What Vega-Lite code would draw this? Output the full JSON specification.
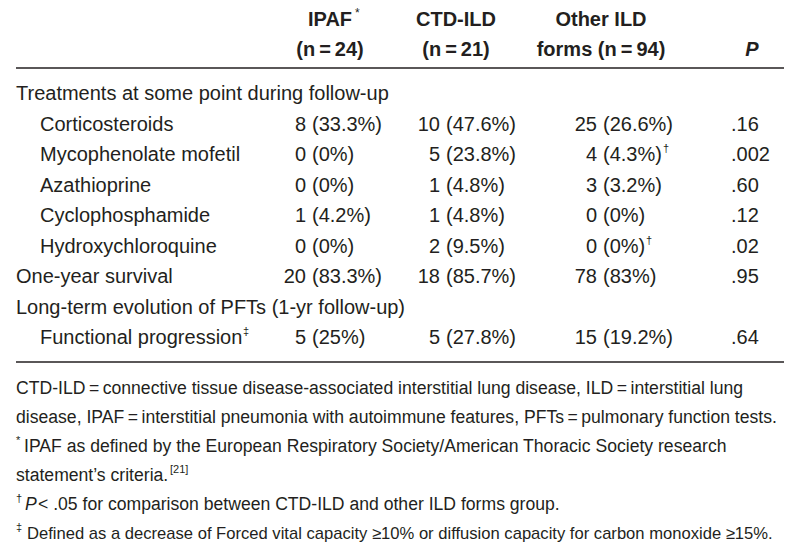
{
  "$schema": "https://vega.github.io/schema/vega-lite/v6.json",
  "width": 800,
  "height": 559,
  "autosize": {"type": "none"},
  "padding": 0,
  "background": "white",
  "config": {
    "view": {"stroke": null},
    "text": {"font": "Liberation Sans", "fontSize": 20, "color": "#231f20", "baseline": "alphabetic", "align": "left"}
  },
  "datasets": {
    "headers": [
      {"line": 0, "col": 3, "text": "IPAF"},
      {"line": 1, "col": 3, "text": "(n\u2009=\u200924)"},
      {"line": 0, "col": 5, "text": "CTD-ILD"},
      {"line": 1, "col": 5, "text": "(n\u2009=\u200921)"},
      {"line": 0, "col": 7, "text": "Other ILD"},
      {"line": 1, "col": 7, "text": "forms (n\u2009=\u200994)"},
      {"line": 1, "col": 9, "text": "P"}
    ],
    "labels": [
      {"line": 2, "col": 0, "text": "Treatments at some point during follow-up"},
      {"line": 3, "col": 1, "text": "Corticosteroids"},
      {"line": 4, "col": 1, "text": "Mycophenolate mofetil"},
      {"line": 5, "col": 1, "text": "Azathioprine"},
      {"line": 6, "col": 1, "text": "Cyclophosphamide"},
      {"line": 7, "col": 1, "text": "Hydroxychloroquine"},
      {"line": 8, "col": 0, "text": "One-year survival"},
      {"line": 9, "col": 0, "text": "Long-term evolution of PFTs (1-yr follow-up)"},
      {"line": 10, "col": 1, "text": "Functional progression"}
    ],
    "counts": [
      {"line": 3, "col": 2, "text": "8"}, {"line": 3, "col": 4, "text": "10"}, {"line": 3, "col": 6, "text": "25"},
      {"line": 4, "col": 2, "text": "0"}, {"line": 4, "col": 4, "text": "5"}, {"line": 4, "col": 6, "text": "4"},
      {"line": 5, "col": 2, "text": "0"}, {"line": 5, "col": 4, "text": "1"}, {"line": 5, "col": 6, "text": "3"},
      {"line": 6, "col": 2, "text": "1"}, {"line": 6, "col": 4, "text": "1"}, {"line": 6, "col": 6, "text": "0"},
      {"line": 7, "col": 2, "text": "0"}, {"line": 7, "col": 4, "text": "2"}, {"line": 7, "col": 6, "text": "0"},
      {"line": 8, "col": 2, "text": "20"}, {"line": 8, "col": 4, "text": "18"}, {"line": 8, "col": 6, "text": "78"},
      {"line": 10, "col": 2, "text": "5"}, {"line": 10, "col": 4, "text": "5"}, {"line": 10, "col": 6, "text": "15"}
    ],
    "pcts": [
      {"line": 3, "col": 2, "text": "(33.3%)"}, {"line": 3, "col": 4, "text": "(47.6%)"}, {"line": 3, "col": 6, "text": "(26.6%)"},
      {"line": 4, "col": 2, "text": "(0%)"}, {"line": 4, "col": 4, "text": "(23.8%)"}, {"line": 4, "col": 6, "text": "(4.3%)"},
      {"line": 5, "col": 2, "text": "(0%)"}, {"line": 5, "col": 4, "text": "(4.8%)"}, {"line": 5, "col": 6, "text": "(3.2%)"},
      {"line": 6, "col": 2, "text": "(4.2%)"}, {"line": 6, "col": 4, "text": "(4.8%)"}, {"line": 6, "col": 6, "text": "(0%)"},
      {"line": 7, "col": 2, "text": "(0%)"}, {"line": 7, "col": 4, "text": "(9.5%)"}, {"line": 7, "col": 6, "text": "(0%)"},
      {"line": 8, "col": 2, "text": "(83.3%)"}, {"line": 8, "col": 4, "text": "(85.7%)"}, {"line": 8, "col": 6, "text": "(83%)"},
      {"line": 10, "col": 2, "text": "(25%)"}, {"line": 10, "col": 4, "text": "(27.8%)"}, {"line": 10, "col": 6, "text": "(19.2%)"}
    ],
    "pvals": [
      {"line": 3, "col": 8, "text": ".16"},
      {"line": 4, "col": 8, "text": ".002"},
      {"line": 5, "col": 8, "text": ".60"},
      {"line": 6, "col": 8, "text": ".12"},
      {"line": 7, "col": 8, "text": ".02"},
      {"line": 8, "col": 8, "text": ".95"},
      {"line": 10, "col": 8, "text": ".64"}
    ],
    "notes": [
      {"line": 11, "col": 0, "text": "CTD-ILD\u2009=\u2009connective tissue disease-associated interstitial lung disease, ILD\u2009=\u2009interstitial lung"},
      {"line": 12, "col": 0, "text": "disease, IPAF\u2009=\u2009interstitial pneumonia with autoimmune features, PFTs\u2009=\u2009pulmonary function tests."},
      {"line": 14, "col": 0, "text": "statement\u2019s criteria."}
    ]
  },
  "layer": [
    {
      "data": {"values": [{}]},
      "mark": {"type": "rule", "color": "#231f20", "strokeWidth": 1.6},
      "encoding": {
        "x": {"datum": 0, "type": "quantitative", "scale": {"domain": [0, 1, 2, 3, 4, 5, 6, 7, 8, 9, 10], "range": [16, 40, 309, 330, 443, 456, 600, 601, 731, 752, 784], "nice": false, "zero": false}, "axis": null},
        "x2": {"datum": 10},
        "y": {"datum": 1.273, "type": "quantitative", "scale": {"domain": [0, 1, 2, 10, 11, 16], "range": [26, 56, 100, 344, 393.5, 538.5], "nice": false, "zero": false}, "axis": null}
      }
    },
    {
      "data": {"values": [{}]},
      "mark": {"type": "rule", "color": "#231f20", "strokeWidth": 1.6},
      "encoding": {
        "x": {"datum": 0, "type": "quantitative", "axis": null},
        "x2": {"datum": 10},
        "y": {"datum": 10.364, "type": "quantitative", "axis": null}
      }
    },
    {
      "data": {"name": "headers"},
      "transform": [{"filter": "datum.col != 9"}],
      "mark": {"type": "text", "fontWeight": "bold", "fontSize": 20, "align": "center"},
      "encoding": {
        "x": {"field": "col", "type": "quantitative", "axis": null},
        "y": {"field": "line", "type": "quantitative", "axis": null},
        "text": {"field": "text"}
      }
    },
    {
      "data": {"name": "headers"},
      "transform": [{"filter": "datum.col == 9"}],
      "mark": {"type": "text", "fontWeight": "bold", "fontStyle": "italic", "fontSize": 20, "align": "center"},
      "encoding": {
        "x": {"field": "col", "type": "quantitative", "axis": null},
        "y": {"field": "line", "type": "quantitative", "axis": null},
        "text": {"field": "text"}
      }
    },
    {
      "data": {"values": [{"line": 0, "col": 3, "text": "*"}]},
      "mark": {"type": "text", "fontSize": 12, "dx": 25, "dy": -9},
      "encoding": {
        "x": {"field": "col", "type": "quantitative", "axis": null},
        "y": {"field": "line", "type": "quantitative", "axis": null},
        "text": {"field": "text"}
      }
    },
    {
      "data": {"name": "labels"},
      "mark": {"type": "text"},
      "encoding": {
        "x": {"field": "col", "type": "quantitative", "axis": null},
        "y": {"field": "line", "type": "quantitative", "axis": null},
        "text": {"field": "text"}
      }
    },
    {
      "data": {"name": "counts"},
      "mark": {"type": "text", "align": "right", "dx": -3},
      "encoding": {
        "x": {"field": "col", "type": "quantitative", "axis": null},
        "y": {"field": "line", "type": "quantitative", "axis": null},
        "text": {"field": "text"}
      }
    },
    {
      "data": {"name": "pcts"},
      "mark": {"type": "text", "align": "left", "dx": 3},
      "encoding": {
        "x": {"field": "col", "type": "quantitative", "axis": null},
        "y": {"field": "line", "type": "quantitative", "axis": null},
        "text": {"field": "text"}
      }
    },
    {
      "data": {"name": "pvals"},
      "mark": {"type": "text", "align": "left"},
      "encoding": {
        "x": {"field": "col", "type": "quantitative", "axis": null},
        "y": {"field": "line", "type": "quantitative", "axis": null},
        "text": {"field": "text"}
      }
    },
    {
      "data": {"values": [{"line": 4, "col": 6, "text": "\u2020"}]},
      "mark": {"type": "text", "fontSize": 11, "dx": 63, "dy": -9},
      "encoding": {
        "x": {"field": "col", "type": "quantitative", "axis": null},
        "y": {"field": "line", "type": "quantitative", "axis": null},
        "text": {"field": "text"}
      }
    },
    {
      "data": {"values": [{"line": 7, "col": 6, "text": "\u2020"}]},
      "mark": {"type": "text", "fontSize": 11, "dx": 46, "dy": -9},
      "encoding": {
        "x": {"field": "col", "type": "quantitative", "axis": null},
        "y": {"field": "line", "type": "quantitative", "axis": null},
        "text": {"field": "text"}
      }
    },
    {
      "data": {"values": [{"line": 10, "col": 1, "text": "\u2021"}]},
      "mark": {"type": "text", "fontSize": 11, "dx": 203, "dy": -9},
      "encoding": {
        "x": {"field": "col", "type": "quantitative", "axis": null},
        "y": {"field": "line", "type": "quantitative", "axis": null},
        "text": {"field": "text"}
      }
    },
    {
      "data": {"name": "notes"},
      "mark": {"type": "text", "fontSize": 17.6},
      "encoding": {
        "x": {"field": "col", "type": "quantitative", "axis": null},
        "y": {"field": "line", "type": "quantitative", "axis": null},
        "text": {"field": "text"}
      }
    },
    {
      "data": {"values": [{"line": 13, "col": 0, "text": "IPAF as defined by the European Respiratory Society/American Thoracic Society research"}]},
      "mark": {"type": "text", "fontSize": 17.6, "dx": 8},
      "encoding": {
        "x": {"field": "col", "type": "quantitative", "axis": null},
        "y": {"field": "line", "type": "quantitative", "axis": null},
        "text": {"field": "text"}
      }
    },
    {
      "data": {"values": [{"line": 13, "col": 0, "text": "*"}, {"line": 15, "col": 0, "text": "\u2020"}, {"line": 16, "col": 0, "text": "\u2021"}]},
      "mark": {"type": "text", "fontSize": 11, "dy": -8},
      "encoding": {
        "x": {"field": "col", "type": "quantitative", "axis": null},
        "y": {"field": "line", "type": "quantitative", "axis": null},
        "text": {"field": "text"}
      }
    },
    {
      "data": {"values": [{"line": 14, "col": 0, "text": "[21]"}]},
      "mark": {"type": "text", "fontSize": 11, "dx": 154, "dy": -8},
      "encoding": {
        "x": {"field": "col", "type": "quantitative", "axis": null},
        "y": {"field": "line", "type": "quantitative", "axis": null},
        "text": {"field": "text"}
      }
    },
    {
      "data": {"values": [{"line": 15, "col": 0, "text": "P"}]},
      "mark": {"type": "text", "fontSize": 17.6, "fontStyle": "italic", "dx": 9},
      "encoding": {
        "x": {"field": "col", "type": "quantitative", "axis": null},
        "y": {"field": "line", "type": "quantitative", "axis": null},
        "text": {"field": "text"}
      }
    },
    {
      "data": {"values": [{"line": 15, "col": 0, "text": "< .05 for comparison between CTD-ILD and other ILD forms group."}]},
      "mark": {"type": "text", "fontSize": 17.6, "dx": 22},
      "encoding": {
        "x": {"field": "col", "type": "quantitative", "axis": null},
        "y": {"field": "line", "type": "quantitative", "axis": null},
        "text": {"field": "text"}
      }
    },
    {
      "data": {"values": [{"line": 16, "col": 0, "text": "Defined as a decrease of Forced vital capacity \u226510% or diffusion capacity for carbon monoxide \u226515%."}]},
      "mark": {"type": "text", "fontSize": 16.6, "dx": 11},
      "encoding": {
        "x": {"field": "col", "type": "quantitative", "axis": null},
        "y": {"field": "line", "type": "quantitative", "axis": null},
        "text": {"field": "text"}
      }
    }
  ]
}
